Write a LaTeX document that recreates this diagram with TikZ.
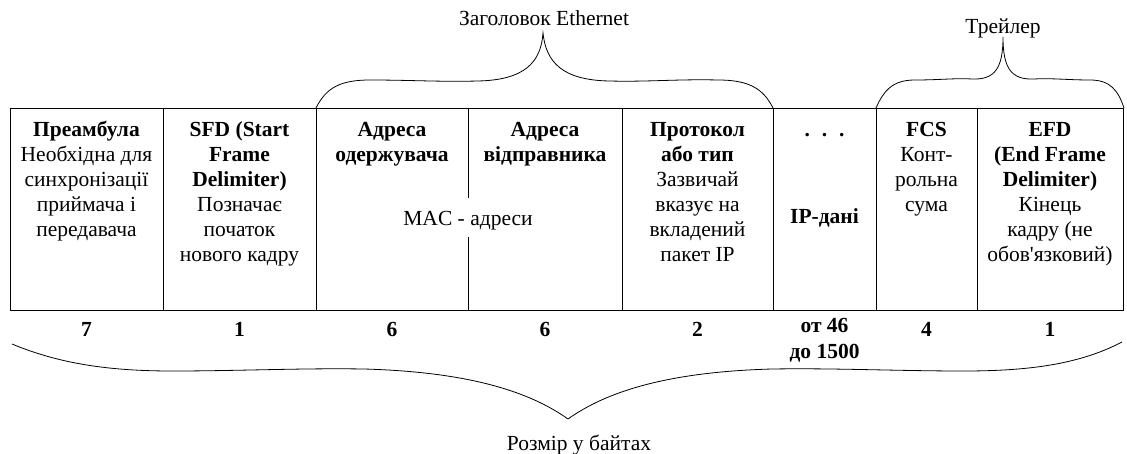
\documentclass[tikz,border=0pt]{standalone}
\usepackage{fontspec}
\setmainfont{Liberation Serif}[Ligatures=TeXOff]
\newcommand\cellfont{\fontsize{21.5}{25}\selectfont}
\newcommand\celltext[1]{\parbox[t]{150pt}{\centering\cellfont #1}}
\begin{document}
\begin{tikzpicture}[x=1pt,y=-1pt,
  frame/.style={line width=0.9pt},
  bracestyle/.style={line width=0.8pt},
  cell/.style={anchor=base,inner sep=0pt,font=\cellfont},
  lbl/.style={anchor=base,inner sep=0pt,font=\cellfont}]
\useasboundingbox (0,0) rectangle (1127,454);
% table frame
\draw[frame] (10,108) rectangle (1123,310);
\foreach \x in {163,316,622,773,876,977}{
  \draw[frame] (\x,108) -- (\x,310);
}
\coordinate (macTop) at (468,108);
\coordinate (macGapA) at (468,198);
\coordinate (macGapB) at (468,237);
\coordinate (macBot) at (468,310);
\draw[frame] (macTop) -- (macGapA);
\draw[frame] (macGapB) -- (macBot);
% cells
\node[cell] (c1) at (86.5,137) {\celltext{\textbf{Преамбула}\\Необхідна для\\синхронізації\\приймача і\\передавача}};
\node[cell] (c2) at (239.5,137) {\celltext{\textbf{SFD (Start}\\\textbf{Frame}\\\textbf{Delimiter)}\\Позначає\\початок\\нового кадру}};
\node[cell] (c3) at (392,137) {\celltext{\textbf{Адреса}\\\textbf{одержувача}}};
\node[cell] (c4) at (545,137) {\celltext{\textbf{Адреса}\\\textbf{відправника}}};
\node[cell] (mac) at (468,225.5) {MAC - адреси};
\node[cell] (c5) at (697.5,137) {\celltext{\textbf{Протокол}\\\textbf{або тип}\\Зазвичай\\вказує на\\вкладений\\пакет IP}};
\node[cell] (c6) at (824.5,137) {\textbf{.\hspace{0.55em}.\hspace{0.55em}.}};
\node[cell] (ip) at (824.5,224) {\textbf{IP-дані}};
\node[cell] (c7) at (926.5,137) {\celltext{\textbf{FCS}\\Конт-\\рольна\\сума}};
\node[cell] (c8) at (1050,137) {\celltext{\textbf{EFD}\\\textbf{(End Frame}\\\textbf{Delimiter)}\\Кінець\\кадру (не\\обов'язковий)}};
% sizes
\foreach \x/\n/\v in {86.5/s1/7,239.5/s2/1,392/s3/6,545/s4/6,697.5/s5/2,926.5/s7/4,1050/s8/1}{
  \node[cell] (\n) at (\x,336) {\textbf{\v}};
}
\node[cell] (s6) at (824.5,332) {\parbox[t]{100pt}{\centering\fontsize{21.5}{26}\selectfont\textbf{от 46}\\\textbf{до 1500}}};
% top braces
\coordinate (ethL) at (316,108);
\coordinate (ethC) at (543,33);
\coordinate (ethR) at (773,108);
\draw[bracestyle] (ethL) .. controls (326,88) and (340,80) .. (370,80)
  .. controls (410,80) and (440,82) .. (478,81)
  .. controls (525,80) and (541,62) .. (ethC)
  .. controls (546,62) and (562,80) .. (609,81)
  .. controls (648,82) and (678,79) .. (718,80)
  .. controls (748,80) and (763,88) .. (ethR);
\node[lbl] (eth) at (544,26) {Заголовок Ethernet};
\coordinate (trL) at (876,108);
\coordinate (trC) at (1003,37);
\coordinate (trR) at (1124,108);
\draw[bracestyle] (trL) .. controls (884,90) and (893,80) .. (915,80)
  .. controls (940,80) and (955,78) .. (972,79)
  .. controls (995,80) and (1003,68) .. (trC)
  .. controls (1003,68) and (1011,80) .. (1034,79)
  .. controls (1052,78) and (1068,80) .. (1090,80)
  .. controls (1110,80) and (1118,90) .. (trR);
\node[lbl] (tr) at (1003,34) {Трейлер};
% bottom brace
\coordinate (bL) at (12,344);
\coordinate (bC) at (568,419);
\coordinate (bR) at (1122,342);
\draw[bracestyle] (bL) .. controls (60,364) and (110,371) .. (172,371)
  .. controls (240,371) and (300,368) .. (364,369)
  .. controls (470,372) and (530,392) .. (bC)
  .. controls (606,392) and (666,372) .. (772,369)
  .. controls (836,368) and (896,371) .. (964,371)
  .. controls (1030,371) and (1080,364) .. (bR);
\node[lbl] (size) at (579,450) {Розмір у байтах};
\end{tikzpicture}
\end{document}
